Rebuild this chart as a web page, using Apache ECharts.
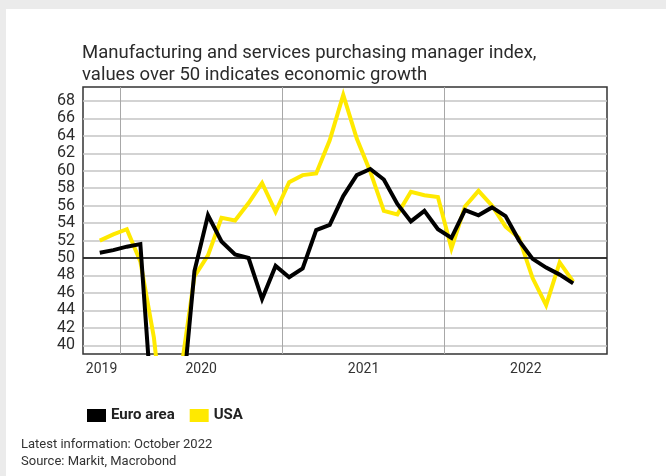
<!DOCTYPE html>
<html>
<head>
<meta charset="utf-8">
<script src="https://cdn.jsdelivr.net/npm/echarts@6/dist/echarts.min.js"></script>
<style>
html,body{margin:0;padding:0;background:#ffffff;}
#chart{width:666px;height:476px;}
</style>
</head>
<body>
<div id="chart"></div>
<script>
// ---- data ----
const months = [
  '2019-11','2019-12',
  '2020-01','2020-02','2020-03','2020-04','2020-05','2020-06','2020-07','2020-08','2020-09','2020-10','2020-11','2020-12',
  '2021-01','2021-02','2021-03','2021-04','2021-05','2021-06','2021-07','2021-08','2021-09','2021-10','2021-11','2021-12',
  '2022-01','2022-02','2022-03','2022-04','2022-05','2022-06','2022-07','2022-08','2022-09','2022-10'
];
const euroArea = [
  50.6, 50.9,
  51.3, 51.6, 29.7, 13.6, 31.9, 48.5, 54.9, 51.9, 50.4, 50.0, 45.3, 49.1,
  47.8, 48.8, 53.2, 53.8, 57.1, 59.5, 60.2, 59.0, 56.2, 54.2, 55.4, 53.3,
  52.3, 55.5, 54.9, 55.8, 54.8, 52.0, 49.9, 48.9, 48.1, 47.1
];
const usa = [
  52.0, 52.7,
  53.3, 49.6, 40.9, 27.0, 37.0, 47.9, 50.3, 54.6, 54.3, 56.3, 58.6, 55.3,
  58.7, 59.5, 59.7, 63.5, 68.7, 63.7, 59.9, 55.4, 55.0, 57.6, 57.2, 57.0,
  51.1, 55.9, 57.7, 56.0, 53.6, 52.3, 47.7, 44.6, 49.5, 47.3
];
const yTicks = [40, 42, 44, 46, 48, 50, 52, 54, 56, 58, 60, 62, 64, 66, 68];
const yearLabels = ['2019', '2020', '2021', '2022'];
const seriesNames = ['Euro area', 'USA'];
const titleLines = ['Manufacturing and services purchasing manager index,', 'values over 50 indicates economic growth'];
const footerLines = ['Latest information: October 2022', 'Source: Markit, Macrobond'];

// ---- helpers ----
// month index: 0 = start of Jan 2020; points sit mid-month
function mIndex(s) {
  const [y, m] = s.split('-').map(Number);
  return (y - 2020) * 12 + (m - 1) + 0.5;
}
const X_MIN = -2.74, X_MAX = 36;
const yearStarts = [0, 12, 24];
// label positions: centre of each (visible) year
const yearLabelPos = [X_MIN / 2, 6, 18, 30];

const FONT = 'Roboto';
const chart = echarts.init(document.getElementById('chart'), null, {renderer: 'canvas'});

const option = {
  backgroundColor: '#ffffff',
  animation: false,
  textStyle: {fontFamily: FONT},
  graphic: [
    {type: 'rect', shape: {x: 0, y: 0, width: 666, height: 9}, style: {fill: '#ebebeb'}, silent: true},
    {type: 'rect', shape: {x: 0, y: 0, width: 6, height: 476}, style: {fill: '#ebebeb'}, silent: true},
    {type: 'text', left: 21, top: 436, style: {text: footerLines.join('\n'), font: '13px ' + FONT, fill: '#333', lineHeight: 17}}
  ],
  title: {
    text: titleLines.join('\n'),
    left: 77, top: 37,
    textStyle: {fontFamily: FONT, fontWeight: 'normal', fontSize: 18.5, lineHeight: 22, color: '#2b2b2b'}
  },
  legend: {
    data: seriesNames,
    left: 82, top: 403,
    icon: 'rect', itemWidth: 19, itemHeight: 13, itemGap: 15,
    textStyle: {fontFamily: FONT, fontWeight: 'bold', fontSize: 15, color: '#222'}
  },
  grid: {
    left: 83, top: 87, width: 524, height: 267,
    show: true, borderColor: '#333', borderWidth: 1.5, backgroundColor: 'transparent'
  },
  xAxis: {
    type: 'value', min: X_MIN, max: X_MAX,
    axisLine: {show: false},
    axisTick: {show: false, customValues: yearStarts},
    splitLine: {show: true, lineStyle: {color: '#a8a8a8', width: 1}},
    axisLabel: {
      customValues: yearLabelPos,
      formatter: v => yearLabels[Math.floor(v / 12) + 1],
      fontFamily: FONT, fontSize: 14, color: '#333', margin: 8
    }
  },
  yAxis: {
    type: 'value', min: 39, max: 69.6,
    axisLine: {show: false},
    axisTick: {show: false, customValues: yTicks},
    splitLine: {show: true, lineStyle: {color: '#c4c4c4', width: 1.5}},
    axisLabel: {
      customValues: yTicks,
      fontFamily: FONT, fontSize: 16, color: '#2b2b2b', margin: 8
    }
  },
  series: [
    {
      name: seriesNames[1], type: 'line', z: 3,
      data: months.map((m, i) => [mIndex(m), usa[i]]),
      showSymbol: false, clip: true,
      lineStyle: {color: '#ffe900', width: 4, join: 'miter'},
      itemStyle: {color: '#ffe900'},
      markLine: {
        silent: true, symbol: 'none', label: {show: false},
        lineStyle: {color: '#000', width: 1.5, type: 'solid'},
        data: [{yAxis: 50}]
      }
    },
    {
      name: seriesNames[0], type: 'line', z: 4,
      data: months.map((m, i) => [mIndex(m), euroArea[i]]),
      showSymbol: false, clip: true,
      lineStyle: {color: '#000000', width: 4, join: 'miter'},
      itemStyle: {color: '#000000'}
    }
  ]
};
chart.setOption(option);
</script>
</body>
</html>
